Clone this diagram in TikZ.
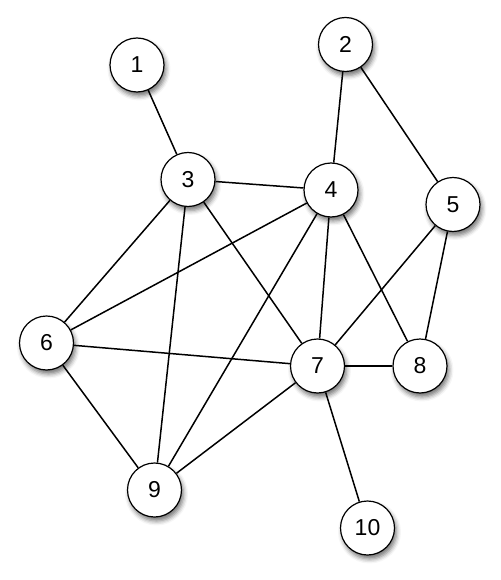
\documentclass[tikz,border=0pt]{standalone}
\usepackage{fontspec}
\setmainfont{Liberation Sans}
\usetikzlibrary{shadows.blur,backgrounds}
\begin{document}
\begin{tikzpicture}[x=1pt,y=-1pt,
  vertex/.style={circle,draw=black,line width=1.2pt,fill=white,minimum size=54pt,inner sep=0pt,
    font=\fontsize{23}{25}\selectfont,
    blur shadow={shadow xshift=2pt,shadow yshift=-4pt,shadow blur radius=4.5pt,shadow opacity=55}},
  edge/.style={line width=1.5pt,black}]
\useasboundingbox (0,0) rectangle (500,580);
\node[vertex] (n1) at (137,65) {1};
\node[vertex] (n2) at (345.5,44.5) {2};
\node[vertex] (n3) at (188,179.5) {3};
\node[vertex] (n4) at (331,190) {4};
\node[vertex] (n5) at (453,204.5) {5};
\node[vertex] (n6) at (46.5,343) {6};
\node[vertex] (n7) at (317.5,366) {7};
\node[vertex] (n8) at (420,366) {8};
\node[vertex] (n9) at (154.5,490) {9};
\node[vertex] (n10) at (367.5,528) {10};
\begin{scope}[on background layer]
\draw[edge] (n1) -- (n3);
\draw[edge] (n2) -- (n4);
\draw[edge] (n2) -- (n5);
\draw[edge] (n3) -- (n4);
\draw[edge] (n3) -- (n6);
\draw[edge] (n3) -- (n9);
\draw[edge] (n3) -- (n7);
\draw[edge] (n4) -- (n6);
\draw[edge] (n4) -- (n9);
\draw[edge] (n4) -- (n7);
\draw[edge] (n4) -- (n8);
\draw[edge] (n5) -- (n7);
\draw[edge] (n5) -- (n8);
\draw[edge] (n6) -- (n7);
\draw[edge] (n6) -- (n9);
\draw[edge] (n7) -- (n8);
\draw[edge] (n7) -- (n9);
\draw[edge] (n7) -- (n10);
\end{scope}
\end{tikzpicture}
\end{document}
